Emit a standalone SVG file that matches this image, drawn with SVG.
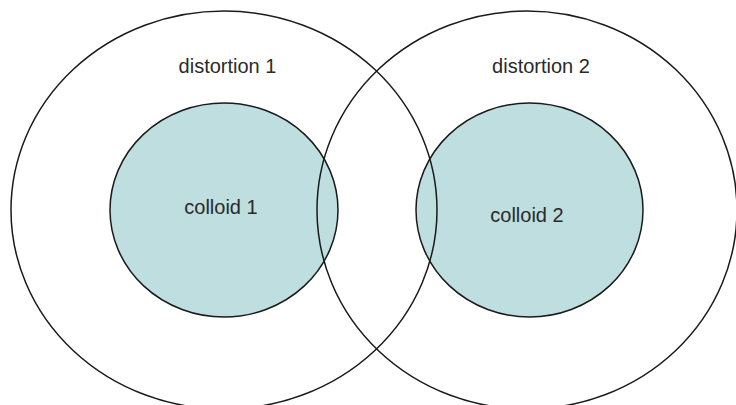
<svg xmlns="http://www.w3.org/2000/svg" width="736" height="405" viewBox="0 0 736 405">
<style>
.colloid{fill:#bfdedf;stroke:#1a1a1a;stroke-width:1.5}
.dist{fill:none;stroke:#1a1a1a;stroke-width:1.5}
.lbl{font-family:"Liberation Sans",Arial,sans-serif;font-size:20px;fill:#2a2a2a;text-anchor:middle}
</style>
<rect width="736" height="405" fill="#ffffff"/>
<g id="colloid1">
<ellipse class="colloid" cx="224" cy="210" rx="114" ry="107"/>
<text class="lbl" x="221" y="214">colloid 1</text>
</g>
<g id="colloid2">
<ellipse class="colloid" cx="529.5" cy="210" rx="113.5" ry="107"/>
<text class="lbl" x="527" y="222">colloid 2</text>
</g>
<g id="distortion1">
<ellipse class="dist" cx="224" cy="210" rx="213" ry="199"/>
<text class="lbl" x="227.5" y="73">distortion 1</text>
</g>
<g id="distortion2">
<ellipse class="dist" cx="527" cy="210" rx="210" ry="199"/>
<text class="lbl" x="541" y="73">distortion 2</text>
</g>
<g id="connectors"/>
</svg>
